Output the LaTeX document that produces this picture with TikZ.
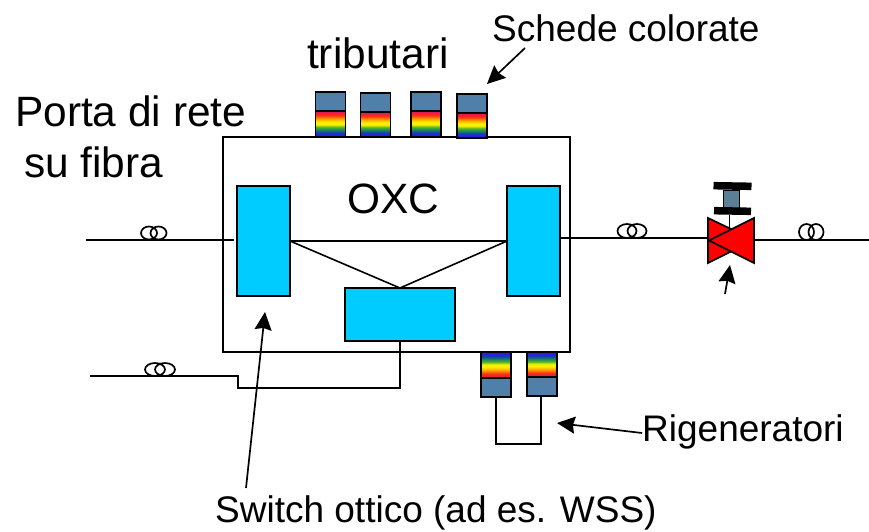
\documentclass[tikz,border=0pt]{standalone}
\usepackage{fontspec}
\setmainfont{Liberation Sans}
\usetikzlibrary{arrows.meta}
\definecolor{rbV}{HTML}{5A10D8}
\definecolor{rbB}{HTML}{2020E8}
\definecolor{rbB2}{HTML}{1840B0}
\definecolor{rbT}{HTML}{108060}
\definecolor{rbG}{HTML}{50B030}
\definecolor{rbY}{HTML}{F8F000}
\definecolor{rbO}{HTML}{FFA000}
\definecolor{rbR}{HTML}{F83010}
\definecolor{rbP}{HTML}{E0106A}
\definecolor{cardblue}{HTML}{5080AA}
\definecolor{stemblue}{HTML}{5B7F95}
\definecolor{switchblue}{HTML}{00CCFF}
\pgfdeclareverticalshading{rbdown}{100bp}{
 color(0bp)=(rbV); color(25bp)=(rbV); color(29bp)=(rbB); color(34bp)=(rbB2); color(38bp)=(rbT); color(44bp)=(rbG); color(49bp)=(rbY); color(54bp)=(rbY); color(60bp)=(rbO); color(67bp)=(rbR); color(75bp)=(rbP); color(100bp)=(rbP)}
\pgfdeclareverticalshading{rbup}{100bp}{
 color(0bp)=(rbP); color(25bp)=(rbP); color(33bp)=(rbR); color(40bp)=(rbO); color(46bp)=(rbY); color(51bp)=(rbY); color(56bp)=(rbG); color(62bp)=(rbT); color(66bp)=(rbB2); color(71bp)=(rbB); color(75bp)=(rbV); color(100bp)=(rbV)}
\tikzset{
 x=1pt,y=-1pt,
 wire/.style={draw=black,line width=2pt},
 fibre/.style={wire,line join=miter},
 thinwire/.style={draw=black,line width=1.6pt},
 callout/.style={draw=black,line width=1.7pt,-{Stealth[inset=2pt,length=18pt,width=17pt]}},
 switchbox/.style={draw=black,line width=1.7pt,fill=switchblue,inner sep=0pt,outer sep=0pt},
 oxcbox/.style={draw=black,line width=2pt,fill=white,inner sep=0pt,outer sep=0pt,minimum width=347pt,minimum height=215pt},
 cardtop/.style={draw=black,line width=1.8pt,fill=cardblue,inner sep=0pt,outer sep=0pt,minimum width=30pt},
 bigtext/.style={font=\fontsize{42.4}{48}\selectfont,anchor=base west,inner sep=0pt},
 midtext/.style={font=\fontsize{37}{42}\selectfont,anchor=base west,inner sep=0pt},
 redtri/.style={draw=black,line width=1.7pt,fill=red,line join=miter},
 barblack/.style={fill=black,inner sep=0pt,outer sep=0pt},
 coil/.style={draw=black,line width=1.7pt},
 rbdownstyle/.style={draw=black,line width=1.8pt,shading=rbdown,inner sep=0pt,outer sep=0pt,minimum width=30pt},
 rbupstyle/.style={draw=black,line width=1.8pt,shading=rbup,inner sep=0pt,outer sep=0pt,minimum width=30pt},
}
\begin{document}
\begin{tikzpicture}
\useasboundingbox (0,0) rectangle (869,531);
% OXC
\node[oxcbox] (oxc) at (396.5,244.5) {};
\node[switchbox,minimum width=53pt,minimum height=110pt] (swL) at (263.5,241) {};
\node[switchbox,minimum width=53pt,minimum height=110pt] (swR) at (533.5,241) {};
\node[switchbox,minimum width=110pt,minimum height=53pt] (swB) at (400,314.5) {};
\draw[thinwire] (swL.east) -- (swR.west);
\draw[thinwire] (swL.east) -- (swB.north) -- (swR.west);
% tributary cards
\node[cardtop,minimum height=19pt] (ta) at (330.5,101.5) {};
\node[rbdownstyle,minimum height=26pt] (tar) at (330.5,124) {};
\node[cardtop,minimum height=19pt] (tb) at (375.5,102.5) {};
\node[rbdownstyle,minimum height=25pt] (tbr) at (375.5,124.5) {};
\node[cardtop,minimum height=19pt] (tc) at (426,101.5) {};
\node[rbdownstyle,minimum height=26pt] (tcr) at (426,124) {};
\node[cardtop,minimum height=19pt] (td) at (472,103.5) {};
\node[rbdownstyle,minimum height=25pt] (tdr) at (472,125.5) {};
% regenerator cards
\node[rbupstyle,minimum height=26pt] (ra) at (496,365) {};
\node[cardtop,minimum height=19pt] (rat) at (496,387.5) {};
\node[rbupstyle,minimum height=25pt] (rb) at (542,364.5) {};
\node[cardtop,minimum height=19pt] (rbt) at (542,386.5) {};
\coordinate (loopa) at (496,444);
\coordinate (loopb) at (541,444);
\draw[fibre] (rat.south) -- (loopa) -- (loopb) -- (rbt.south -| loopb);
% fibres
\coordinate (fL1) at (86,240); \coordinate (fL2) at (234,240);
\draw[wire] (fL1) -- (fL2);
\coordinate (fR1) at (561,238); \coordinate (fR2) at (708,238);
\draw[wire] (fR1) -- (fR2);
\coordinate (fE1) at (754,240); \coordinate (fE2) at (869,240);
\draw[wire] (fE1) -- (fE2);
\coordinate (fB1) at (90,376); \coordinate (fB2) at (238,376); \coordinate (fB3) at (238,388);
\draw[fibre] (fB1) -- (fB2) -- (fB3) -- (fB3 -| swB.south) -- (swB.south);
% coils
\draw[coil] (149,233) ellipse (8pt and 6.5pt) (158.5,233) ellipse (8pt and 6.5pt);
\draw[coil] (627,231) ellipse (9.5pt and 7pt) (637,231) ellipse (9.5pt and 7pt);
\draw[coil] (806.5,232) ellipse (7.5pt and 8pt) (816,232) ellipse (7.5pt and 8pt);
\draw[coil] (155,369.5) ellipse (10pt and 6.5pt) (165,369.5) ellipse (10pt and 6.5pt);
% valve
\node[barblack,minimum width=38pt,minimum height=7.5pt,rotate=-1] (barT) at (732.5,186) {};
\node[draw=black,line width=1pt,fill=stemblue,inner sep=0pt,outer sep=0pt,minimum width=16pt,minimum height=18pt] (stem) at (731,199) {};
\node[barblack,minimum width=37pt,minimum height=7.5pt,rotate=-1] (barB) at (732.5,211) {};
\coordinate (stemend) at (729.5,232);
\draw[thinwire] (barB.south -| stemend) -- (stemend);
\draw[redtri] (708,218) -- (708,263) -- (754,240) -- cycle;
\draw[redtri] (754,218) -- (754,263) -- (709,240.5) -- cycle;
% callouts
\coordinate (a1s) at (525,48); \coordinate (a1e) at (487,84);
\draw[callout] (a1s) -- (a1e);
\coordinate (a2s) at (642,433); \coordinate (a2e) at (557,423);
\draw[callout] (a2s) -- (a2e);
\coordinate (a3s) at (246,488); \coordinate (a3e) at (265,312);
\draw[callout] (a3s) -- (a3e);
\coordinate (a4s) at (725,294); \coordinate (a4e) at (730,265);
\draw[callout] (a4s) -- (a4e);
% labels
\node[bigtext] (tPorta) at (15,126) {Porta di rete};
\node[bigtext] (tFibra) at (24,177) {su fibra};
\node[bigtext] (tTrib) at (307,68) {tributari};
\node[bigtext] (tOXC) at (347,213) {OXC};
\node[midtext] (tSchede) at (492,41) {Schede colorate};
\node[midtext] (tRig) at (642,441) {Rigeneratori};
\node[midtext] (tSwitch) at (215,522.5) {Switch ottico (ad es. WSS)};
\end{tikzpicture}
\end{document}
